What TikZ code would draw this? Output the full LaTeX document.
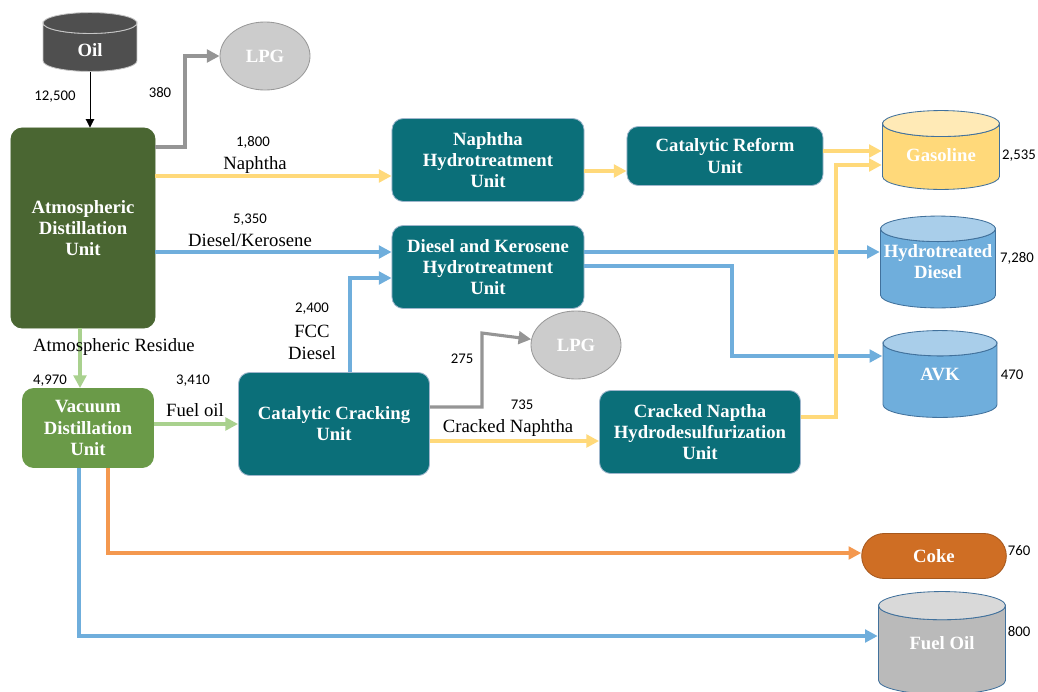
\documentclass[tikz,border=0pt]{standalone}
\usepackage{fontspec}
\setmainfont{Liberation Serif}
\newfontfamily\numfont{Carlito}
\usetikzlibrary{arrows.meta,shapes.geometric,shapes.misc,calc}

\definecolor{tealunit}{HTML}{0B6F79}
\definecolor{unitline}{HTML}{9FB6CC}
\definecolor{atmgreen}{HTML}{4A6632}
\definecolor{vacgreen}{HTML}{6A9A48}
\definecolor{yelflow}{HTML}{FFD97A}
\definecolor{bluflow}{HTML}{6FAEDC}
\definecolor{grnflow}{HTML}{A9D18E}
\definecolor{orgflow}{HTML}{F4984F}
\definecolor{grayflow}{HTML}{959595}
\definecolor{tankline}{HTML}{41719C}
\definecolor{cokefill}{HTML}{CF6E24}

\begin{document}
\begin{tikzpicture}[
  x=0.025cm,y=-0.025cm,
  every node/.style={align=center},
  unit/.style={rectangle,rounded corners=8pt,draw=unitline,line width=0.6pt,fill=tealunit,text=white,
    font=\bfseries\fontsize{13.3}{15}\selectfont},
  tank/.style n args={3}{rectangle,inner sep=1pt,text=white,font=\bfseries\fontsize{13.3}{15}\selectfont,
    path picture={
      \path let \p1=(path picture bounding box.south west),\p2=(path picture bounding box.north east),
        \n1={(\x2-\x1)/2-0.4pt},\n2={0.11*(\x2-\x1)} in
        [draw=#3,line width=0.6pt,fill=#1]
        (\x1+0.4pt,\y2-\n2-0.4pt) -- (\x1+0.4pt,\y1+\n2+0.4pt)
        arc[start angle=180,end angle=360,x radius=\n1,y radius=\n2]
        -- (\x2-0.4pt,\y2-\n2-0.4pt)
        arc[start angle=0,end angle=-180,x radius=\n1,y radius=\n2] -- cycle;
      \path let \p1=(path picture bounding box.south west),\p2=(path picture bounding box.north east),
        \n1={(\x2-\x1)/2-0.4pt},\n2={0.11*(\x2-\x1)} in
        [draw=#3,line width=0.6pt,fill=#2]
        ({(\x1+\x2)/2},\y2-\n2-0.4pt) ellipse[x radius=\n1,y radius=\n2];
    }},
  gasbubble/.style={ellipse,draw=gray!80,line width=0.6pt,fill=black!20,text=white,
    minimum width=2.25cm,minimum height=1.7cm,font=\bfseries\fontsize{13.3}{15}\selectfont},
  num/.style={font=\numfont\fontsize{10.5}{12}\selectfont,inner sep=1pt},
  lbl/.style={font=\fontsize{13.3}{15.5}\selectfont,inner sep=1pt},
  flow/.style={line width=2.2pt,-{Triangle[length=9pt,width=9pt]}},
  yflow/.style={flow,draw=yelflow},
  bflow/.style={flow,draw=bluflow},
  gflow/.style={flow,draw=grnflow},
  oflow/.style={flow,draw=orgflow},
  kflow/.style={flow,draw=grayflow}
]
\useasboundingbox (0,0) rectangle (1038,691);

% units
\node[unit,fill=atmgreen,draw=atmgreen,minimum width=3.6cm,minimum height=5cm] (atm) at (83,228)
  {Atmospheric\\Distillation\\Unit};
\node[unit,minimum width=4.8cm,minimum height=2.075cm] (nht) at (488,160)
  {Naphtha\\Hydrotreatment\\Unit};
\node[unit,minimum width=4.9cm,minimum height=1.475cm] (cru) at (725,156)
  {Catalytic Reform\\Unit};
\node[unit,minimum width=4.8cm,minimum height=2.075cm] (dkh) at (488,267)
  {Diesel and Kerosene\\Hydrotreatment\\Unit};
\node[unit,fill=vacgreen,draw=vacgreen,minimum width=3.275cm,minimum height=1.975cm] (vdu) at (88,428)
  {Vacuum\\Distillation\\Unit};
\node[unit,minimum width=4.775cm,minimum height=2.575cm] (ccu) at (334,424)
  {Catalytic Cracking\\Unit};
\node[unit,minimum width=5.025cm,minimum height=2.075cm] (cnh) at (700,432)
  {Cracked Naptha\\Hydrodesulfurization\\Unit};

% tanks and products
\node[tank={black!69}{black!69}{gray!45},minimum width=2.375cm,minimum height=1.5cm] (oil) at (90,42)
  {\raisebox{-10pt}[0pt][0pt]{Oil}};
\node[gasbubble] (lpgA) at (265,56) {LPG};
\node[gasbubble] (lpgB) at (576,345) {LPG};
\node[tank={yelflow}{yelflow!55}{tankline},minimum width=2.95cm,minimum height=2cm] (gas) at (941,150)
  {\raisebox{-8.5pt}[0pt][0pt]{Gasoline}};
\node[tank={bluflow}{bluflow!60}{tankline},minimum width=2.9cm,minimum height=2.325cm] (htd) at (938,262)
  {Hydrotreated\\Diesel};
\node[tank={bluflow}{bluflow!60}{tankline},minimum width=2.875cm,minimum height=2.2cm] (avk) at (940,374) {AVK};
\node[rounded rectangle,draw=cokefill!80!black,line width=0.6pt,fill=cokefill,text=white,
  font=\bfseries\fontsize{13.3}{15}\selectfont,minimum width=3.85cm,minimum height=1.125cm] (coke) at (934,556) {Coke};
\node[tank={black!27}{black!15}{tankline},minimum width=3.2cm,minimum height=2.6cm] (fo) at (942,643) {Fuel Oil};

% flows
\draw[line width=0.6pt,-{Triangle[length=6pt,width=6pt]}] (oil.south) -- (oil.south |- atm.north);
\draw[kflow] (atm.east |- 0,147) -| (185,56) -- (lpgA);
\draw[yflow] (atm.east |- 0,176) -- (nht.west |- 0,176);
\draw[yflow] (nht.east |- 0,171) -- (cru.west |- 0,171);
\draw[yflow] (cru.east |- 0,151) -- (gas.west |- 0,151);
\draw[bflow] (atm.east |- 0,252) -- (dkh.west |- 0,252);
\draw[bflow] (ccu.north -| 350,0) |- (dkh.west |- 0,278);
\draw[bflow] (dkh.east |- 0,252) -- (htd.west |- 0,252);
\draw[bflow] (dkh.east |- 0,266) -| (732,356) -- (avk.west |- 0,356);
\draw[gflow] (atm.south -| 80,0) -- (vdu.north -| 80,0);
\draw[gflow] (vdu.east |- 0,424) -- (ccu.west |- 0,424);
\draw[kflow] (ccu.east |- 0,407) -| (482,333) -- (lpgB);
\draw[yflow] (ccu.east |- 0,441) -- (cnh.west |- 0,441);
\draw[yflow] (cnh.east |- 0,417) -| (836,165) -- (gas.west |- 0,165);
\draw[oflow] (vdu.south -| 108,0) |- (coke.west |- 0,553);
\draw[bflow] (vdu.south -| 79,0) |- (fo.west |- 0,636);

% quantities and stream names
\node[num] (qoil) at (55,97) {12,500};
\node[num] (qlpgA) at (160,93) {380};
\node[num] (qnap) at (253,142) {1,800};
\node[lbl] (lnap) at (255,165) {Naphtha};
\node[num] (qdk) at (250,220) {5,350};
\node[lbl] (ldk) at (250,240) {Diesel/Kerosene};
\node[num] (qfcc) at (312,309) {2,400};
\node[lbl] (lfcc) at (312,342) {FCC\\Diesel};
\node[lbl] (lres) at (114,347) {Atmospheric Residue};
\node[num] (qres) at (50,381) {4,970};
\node[num] (qfuel) at (193,381) {3,410};
\node[lbl] (lfuel) at (195,410) {Fuel oil};
\node[num] (qlpgB) at (462,359) {275};
\node[num] (qcn) at (522,405) {735};
\node[lbl] (lcn) at (508,428) {Cracked Naphtha};
\node[num] (qgas) at (1019,156) {2,535};
\node[num] (qhtd) at (1017,258) {7,280};
\node[num] (qavk) at (1012,375) {470};
\node[num] (qcoke) at (1019,551) {760};
\node[num] (qfo) at (1019,632) {800};
\end{tikzpicture}
\end{document}
